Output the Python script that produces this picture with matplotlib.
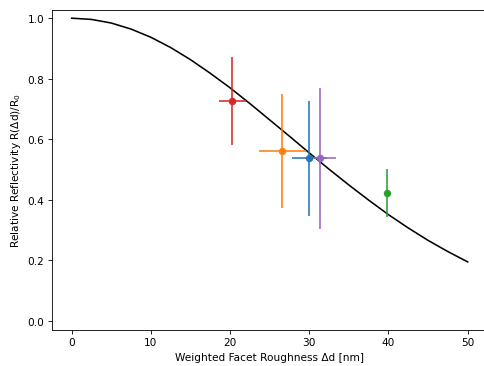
import numpy as np
import matplotlib
matplotlib.use("Agg")
import matplotlib.pyplot as plt

# model curve
curve_x = [0, 2.5, 5, 7.5, 10, 12.5, 15, 17.5, 20, 22.5, 25,
           27.5, 30, 32.5, 35, 37.5, 40, 42.5, 45, 47.5, 50]
curve_y = [1.0, 0.996, 0.984, 0.964, 0.937, 0.903, 0.863, 0.818, 0.770, 0.718, 0.664,
           0.610, 0.555, 0.501, 0.449, 0.399, 0.351, 0.307, 0.266, 0.229, 0.195]

# measured points (drawn in this order -> C0..C4)
pt_x = [30.0, 26.6, 39.8, 20.3, 31.35]
pt_y = [0.537, 0.560, 0.422, 0.727, 0.537]
pt_xerr = [2.2, 2.95, 0.0, 1.7, 2.0]
pt_yerr = [0.19, 0.188, 0.08, 0.145, 0.234]

dpi = 76
fig = plt.figure(figsize=(484 / dpi, 367 / dpi), dpi=dpi)
ax = fig.add_axes([0.1072, 0.0981, 0.9, 0.8727])

ax.plot(curve_x, curve_y, color="k", linewidth=1.5)
for i in range(len(pt_x)):
    ax.errorbar(pt_x[i], pt_y[i], xerr=pt_xerr[i], yerr=pt_yerr[i],
                fmt="o", color="C%d" % i)

ax.set_xlim(-2.5, 52.5)
ax.set_ylim(-0.03, 1.028)
ax.set_xlabel("Weighted Facet Roughness \u0394d [nm]")
ax.set_ylabel("Relative Reflectivity R(\u0394d)/R$_0$")

fig.savefig("out.png", dpi=dpi)
